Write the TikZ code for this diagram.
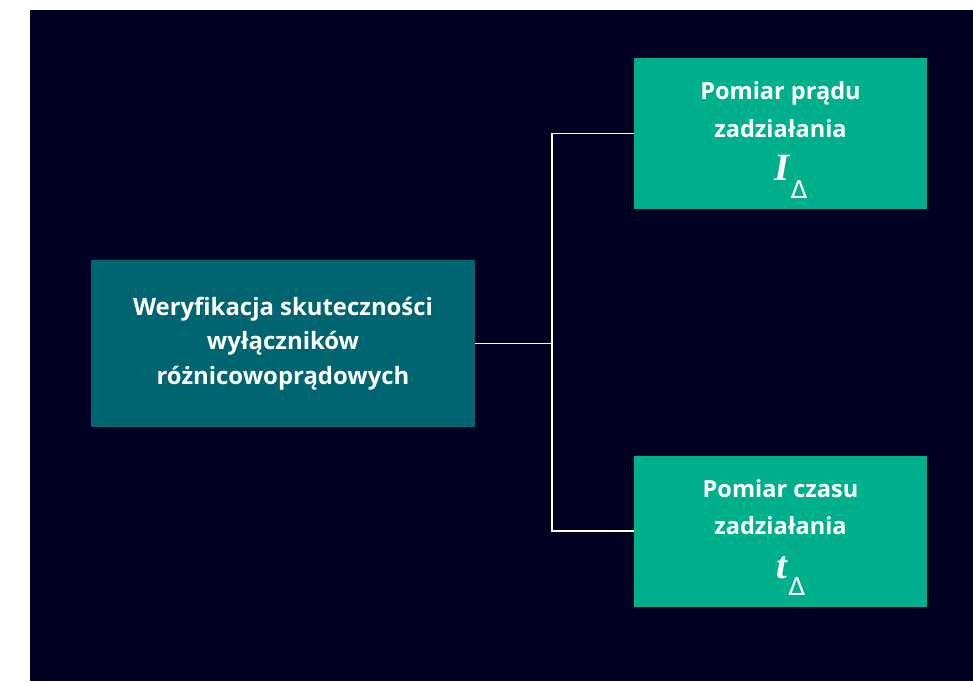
\documentclass[tikz,border=0pt]{standalone}
\usepackage{fontspec}
\setmainfont{Open Sans}
\newfontfamily\qtyfont{Liberation Serif}
\newfontfamily\deltafont{DejaVu Sans}
\usetikzlibrary{calc}
\definecolor{bgnavy}{RGB}{0,0,34}
\definecolor{boxteal}{RGB}{0,101,112}
\definecolor{boxgreen}{RGB}{0,176,140}

% quantity symbol with a Delta subscript
\newcommand{\qsym}[1]{{\qtyfont\fontsize{22}{22}\selectfont\bfseries\itshape #1}\kern0.5pt\raisebox{-10pt}{\deltafont\mdseries\fontsize{14}{14}\selectfont Δ}}

\begin{document}
\begin{tikzpicture}[x=0.02cm, y=-0.02cm]

  \tikzstyle{boxtext} = [text=white, align=center, inner sep=0pt]
  \tikzstyle{mainbox} = [boxtext, fill=boxteal,
  font=\bfseries\fontsize{13.6}{19.6}\selectfont,
  minimum width=7.68cm, minimum height=3.34cm]
  \tikzstyle{measbox} = [boxtext, fill=boxgreen,
  font=\bfseries\fontsize{13.4}{21.5}\selectfont,
  minimum width=5.86cm, minimum height=3.02cm]
  \tikzstyle{wire} = [draw=white, line width=1.1pt]

  \useasboundingbox (0,0) rectangle (973,681);
  \fill[bgnavy] (30,10) rectangle (973,681);

  \node[mainbox] (verif) at (283,343.5)
    {Weryfikacja skuteczności\\wyłączników\\różnicowoprądowych};

  \node[measbox] (pomI) at (780.5,133.5)
    {\\[-4pt]Pomiar prądu\\zadziałania\\[3pt]\hspace*{12pt}\qsym{I}};
  \node[measbox] (pomt) at (780.5,531)
    {\\[-4pt]Pomiar czasu\\zadziałania\\[3pt]\hspace*{12pt}\qsym{t}};

  \coordinate (split) at (552,343.5);

  \draw[wire] (verif.east) -- (split);
  \draw[wire] (pomI.west) -| (split) |- (pomt.west);

\end{tikzpicture}
\end{document}
